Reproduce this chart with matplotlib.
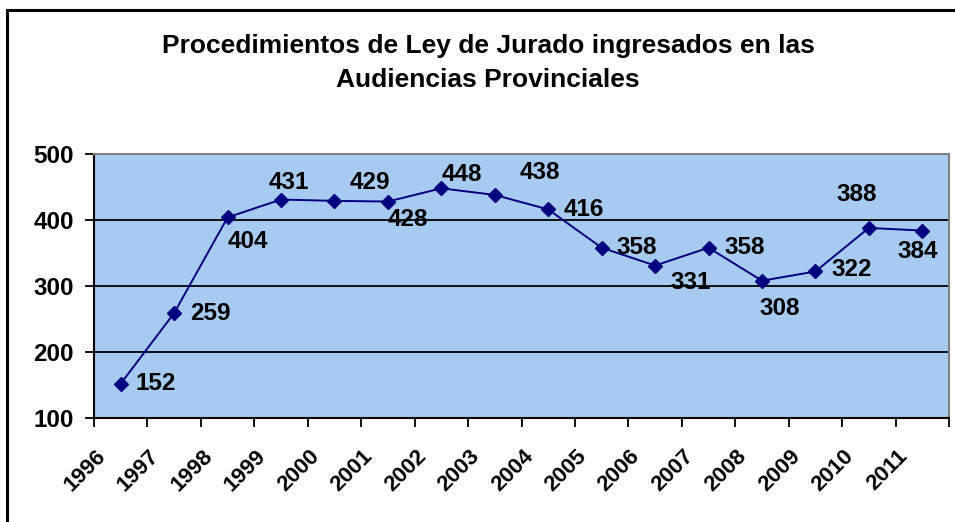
import matplotlib
matplotlib.use("Agg")
import matplotlib.pyplot as plt
import matplotlib.transforms as mtransforms
from matplotlib.patches import Rectangle

# --- data ---
years = ["1996", "1997", "1998", "1999", "2000", "2001", "2002", "2003",
         "2004", "2005", "2006", "2007", "2008", "2009", "2010", "2011"]
cases = [152, 259, 404, 431, 429, 428, 448, 438, 416, 358, 331, 358, 308, 322, 388, 384]

# label placement (pixel offset from the point, horizontal alignment)
label_pos = [
    (15, 0, "left"), (16, 0, "left"), (0, -24, "left"), (8, 17, "center"),
    (35, 18, "center"), (20, -18, "center"), (21, 14, "center"), (45, 22, "center"),
    (15, 0, "left"), (15, 0, "left"), (15, -17, "left"), (16, 0, "left"),
    (18, -28, "center"), (16, 2, "left"), (-12, 33, "center"), (-5, -21, "center"),
]

plt.rcParams["font.family"] = ["Liberation Sans", "DejaVu Sans"]
plt.rcParams["font.weight"] = "bold"

W, H = 955, 522
fig = plt.figure(figsize=(W / 100, H / 100), dpi=100)
ax = fig.add_axes([94 / W, 1 - 418 / H, (949 - 94) / W, (418 - 154) / H])

# outer chart border
fig.patches.append(Rectangle((7 / W, -0.1), 1.2, 1.1 - 10 / H, transform=fig.transFigure,
                             fill=False, edgecolor="black", linewidth=2.2))

ax.set_facecolor("#A6CAF0")
xs = [i + 0.5 for i in range(len(years))]
ax.plot(xs, cases, color="#000080", linewidth=1.4, marker="D", markersize=7.5,
        markerfacecolor="#000080", markeredgecolor="#000080", zorder=3)

for x, v, (dx, dy, ha) in zip(xs, cases, label_pos):
    ax.annotate(str(v), (x, v), xytext=(dx, dy), textcoords="offset pixels",
                ha=ha, va="center", fontsize=17.5, fontweight="bold", zorder=4)

ax.set_xlim(0, len(years))
ax.set_ylim(100, 500)
ax.set_yticks([100, 200, 300, 400, 500])
ax.yaxis.grid(True, color="black", linewidth=1.3)
ax.set_axisbelow(True)

# tick marks sit on the category boundaries; year labels drawn slanted below them
ax.set_xticks(range(len(years) + 1))
ax.set_xticklabels([])
lbl_tr = ax.get_xaxis_transform() + mtransforms.ScaledTranslation(1 / 100, -28 / 100, fig.dpi_scale_trans)
for i, yr in enumerate(years):
    ax.text(i, 0, yr, transform=lbl_tr, rotation=45, rotation_mode="anchor",
            ha="right", va="top", fontsize=16, fontweight="bold")

ax.tick_params(axis="both", direction="out", length=6.5, width=1.3, labelsize=17.5)
ax.tick_params(axis="y", pad=8)
for t in ax.get_yticklabels():
    t.set_fontweight("bold")

ax.spines["left"].set_linewidth(1.5)
ax.spines["bottom"].set_linewidth(1.5)
ax.spines["top"].set_color("#808080")
ax.spines["right"].set_color("#808080")
ax.spines["top"].set_linewidth(1.5)
ax.spines["right"].set_linewidth(1.5)

fig.text(488 / W, 1 - 63 / H,
         "Procedimientos de Ley de Jurado ingresados en las\nAudiencias Provinciales",
         ha="center", va="center", fontsize=19, fontweight="bold", linespacing=1.5)

fig.savefig("out.png", dpi=100)
